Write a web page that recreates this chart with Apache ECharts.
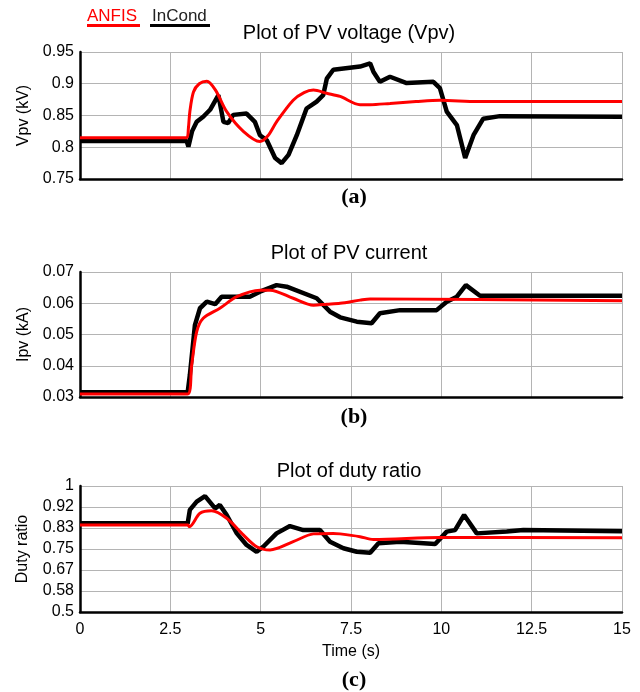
<!DOCTYPE html>
<html>
<head>
<meta charset="utf-8">
<script src="https://cdn.jsdelivr.net/npm/echarts@6/dist/echarts.min.js"></script>
<style>
  html, body { margin: 0; padding: 0; background: #ffffff; }
  #chart { width: 640px; height: 692px; }
</style>
</head>
<body>
<div id="chart"></div>
<script>
  // (a) PV voltage, kV
  const vpvAnfisT = [0, 2.95, 3.0, 3.04, 3.14, 3.3, 3.51, 3.75, 4.06, 4.52, 4.98, 5.2, 5.44, 5.9, 6.2, 6.46, 6.83, 7.2, 7.75, 8.03, 8.58, 9.3, 9.96, 11, 15]
  const vpvAnfis = [0.815, 0.815, 0.83, 0.856, 0.887, 0.9, 0.904, 0.89, 0.856, 0.825, 0.809, 0.818, 0.84, 0.874, 0.886, 0.89, 0.885, 0.88, 0.867, 0.867, 0.869, 0.872, 0.874, 0.872, 0.872]
  const vpvIncT = [0, 2.95, 3.0, 3.1, 3.23, 3.41, 3.6, 3.83, 3.97, 4.1, 4.24, 4.61, 4.84, 4.98, 5.17, 5.4, 5.58, 5.77, 6.0, 6.27, 6.55, 6.73, 6.83, 7.01, 7.75, 8.03, 8.12, 8.3, 8.58, 9.04, 9.78, 9.96, 10.15, 10.43, 10.66, 10.89, 11.16, 11.62, 15]
  const vpvInc = [0.81, 0.81, 0.801, 0.825, 0.84, 0.848, 0.859, 0.882, 0.84, 0.838, 0.851, 0.853, 0.84, 0.819, 0.811, 0.783, 0.775, 0.788, 0.819, 0.861, 0.872, 0.882, 0.908, 0.922, 0.927, 0.932, 0.919, 0.903, 0.911, 0.901, 0.903, 0.893, 0.856, 0.835, 0.783, 0.819, 0.845, 0.849, 0.848]

  // (b) PV current, kA
  const ipvAnfisT = [0, 2.98, 3.09, 3.23, 3.41, 3.87, 4.34, 4.98, 5.26, 5.9, 6.46, 6.83, 7.2, 7.75, 8.03, 15]
  const ipvAnfis = [0.031, 0.031, 0.0402, 0.0509, 0.0552, 0.0584, 0.0621, 0.0642, 0.0642, 0.0616, 0.0594, 0.0597, 0.06, 0.061, 0.0614, 0.0608]
  const ipvIncT = [0, 2.98, 3.04, 3.18, 3.32, 3.51, 3.74, 3.92, 4.24, 4.7, 4.98, 5.44, 5.72, 6.55, 6.92, 7.2, 7.66, 8.07, 8.3, 8.86, 9.87, 10.15, 10.43, 10.68, 11.07, 15]
  const ipvInc = [0.0315, 0.0315, 0.037, 0.053, 0.0584, 0.0605, 0.0597, 0.0621, 0.0621, 0.0621, 0.0637, 0.0658, 0.0653, 0.0616, 0.0573, 0.0555, 0.0541, 0.0536, 0.0568, 0.0578, 0.0578, 0.0605, 0.0621, 0.0658, 0.0624, 0.0624]

  // (c) duty ratio
  const dutyAnfisT = [0, 2.98, 3.03, 3.32, 3.64, 4.06, 4.52, 4.89, 5.26, 5.9, 6.46, 7.01, 7.2, 7.75, 8.12, 9.96, 15]
  const dutyAnfis = [0.845, 0.845, 0.839, 0.892, 0.902, 0.872, 0.806, 0.759, 0.746, 0.779, 0.81, 0.812, 0.81, 0.799, 0.788, 0.796, 0.795]
  const dutyIncT = [0, 2.98, 3.04, 3.23, 3.46, 3.74, 3.87, 4.06, 4.34, 4.61, 4.89, 5.07, 5.44, 5.81, 6.18, 6.64, 6.92, 7.29, 7.66, 8.03, 8.26, 8.86, 9.83, 10.15, 10.38, 10.63, 10.98, 11.81, 12.27, 15]
  const dutyInc = [0.852, 0.852, 0.905, 0.938, 0.96, 0.911, 0.925, 0.885, 0.812, 0.766, 0.739, 0.759, 0.812, 0.841, 0.825, 0.825, 0.779, 0.753, 0.739, 0.735, 0.773, 0.779, 0.77, 0.819, 0.825, 0.885, 0.812, 0.819, 0.825, 0.82]

  const xTicks = [0, 2.5, 5, 7.5, 10, 12.5, 15]
  const panelTitles = ['Plot of PV voltage (Vpv)', 'Plot of PV current', 'Plot of duty ratio']
  const panelTags = ['(a)', '(b)', '(c)']
  const yNames = ['Vpv (kV)', 'Ipv (kA)', 'Duty ratio']
  const yRanges = [[0.75, 0.95, 0.05], [0.03, 0.07, 0.01], [0.5, 1, 1 / 12]]

  const FONT = 'Arial, "Liberation Sans", sans-serif'
  const COLOR = { anfis: '#ff0000', inc: '#000000', grid: '#b4b4b4', text: '#000000' }

  const pairs = (t, v) => t.map((x, i) => [x, v[i]])

  const grids = [
    { left: 80, top: 52, width: 542, height: 127 },
    { left: 80, top: 272, width: 542, height: 125 },
    { left: 80, top: 486, width: 542, height: 126 }
  ]
  const titleY = [33, 253, 471]
  const tagY = [197, 417, 680]
  const nameGaps = [46, 46, 49]

  let xAxis = grids.map((g, i) => ({
    type: 'value',
    gridIndex: i,
    min: xTicks[0],
    max: xTicks[xTicks.length - 1],
    interval: 2.5,
    name: i === 2 ? 'Time (s)' : '',
    nameLocation: 'middle',
    nameGap: 32,
    nameTextStyle: { color: COLOR.text, fontSize: 16, fontFamily: FONT },
    axisLine: { show: true, onZero: false, lineStyle: { color: '#000', width: 2.5 } },
    axisTick: { show: false },
    axisLabel: { show: i === 2, color: COLOR.text, fontSize: 16, fontFamily: FONT, margin: 10 },
    splitLine: { show: true, lineStyle: { color: COLOR.grid, width: 1 } }
  }))

  let yAxis = grids.map((g, i) => ({
    type: 'value',
    gridIndex: i,
    min: yRanges[i][0],
    max: yRanges[i][1],
    interval: yRanges[i][2],
    name: yNames[i],
    nameLocation: 'middle',
    nameGap: nameGaps[i],
    nameTextStyle: { color: COLOR.text, fontSize: 16, fontFamily: FONT },
    axisLine: { show: true, onZero: false, lineStyle: { color: '#000', width: 2.5 } },
    axisTick: { show: false },
    axisLabel: {
      color: COLOR.text, fontSize: 16, fontFamily: FONT, margin: 6,
      formatter: v => String(+v.toFixed(2))
    },
    splitLine: { show: true, lineStyle: { color: COLOR.grid, width: 1 } }
  }))

  // black InCond first so the red ANFIS line sits on top
  const lineData = [
    [pairs(vpvIncT, vpvInc), pairs(vpvAnfisT, vpvAnfis)],
    [pairs(ipvIncT, ipvInc), pairs(ipvAnfisT, ipvAnfis)],
    [pairs(dutyIncT, dutyInc), pairs(dutyAnfisT, dutyAnfis)]
  ]
  let series = []
  lineData.forEach((d, i) => {
    series.push({
      name: 'InCond', type: 'line', xAxisIndex: i, yAxisIndex: i,
      data: d[0], showSymbol: false, smooth: false,
      lineStyle: { color: COLOR.inc, width: 4.5 }
    })
    series.push({
      name: 'ANFIS', type: 'line', xAxisIndex: i, yAxisIndex: i,
      data: d[1], showSymbol: false, smooth: 0.3,
      lineStyle: { color: COLOR.anfis, width: 3 }
    })
  })

  let graphic = []
  panelTitles.forEach((t, i) => {
    graphic.push({
      type: 'text', x: 349, y: titleY[i],
      style: { text: t, align: 'center', verticalAlign: 'middle', fontSize: 20, fontFamily: FONT, fill: COLOR.text }
    })
    graphic.push({
      type: 'text', x: 354, y: tagY[i],
      style: { text: panelTags[i], align: 'center', verticalAlign: 'middle', fontSize: 22, fontWeight: 'bold', fontFamily: '"Liberation Serif", "Times New Roman", serif', fill: COLOR.text }
    })
  })
  // legend: coloured name with a thick underline
  graphic.push(
    { type: 'text', x: 87, y: 16, style: { text: 'ANFIS', verticalAlign: 'middle', fontSize: 17, fontFamily: FONT, fill: COLOR.anfis } },
    { type: 'rect', shape: { x: 87, y: 24, width: 53, height: 3 }, style: { fill: COLOR.anfis } },
    { type: 'text', x: 152, y: 16, style: { text: 'InCond', verticalAlign: 'middle', fontSize: 17, fontFamily: FONT, fill: '#222' } },
    { type: 'rect', shape: { x: 150, y: 24, width: 60, height: 3 }, style: { fill: COLOR.inc } }
  )

  const myChart = echarts.init(document.getElementById('chart'), null, { renderer: 'canvas' })
  myChart.setOption({
    animation: false,
    backgroundColor: '#ffffff',
    grid: grids,
    xAxis: xAxis,
    yAxis: yAxis,
    series: series,
    graphic: graphic
  })
</script>
</body>
</html>
